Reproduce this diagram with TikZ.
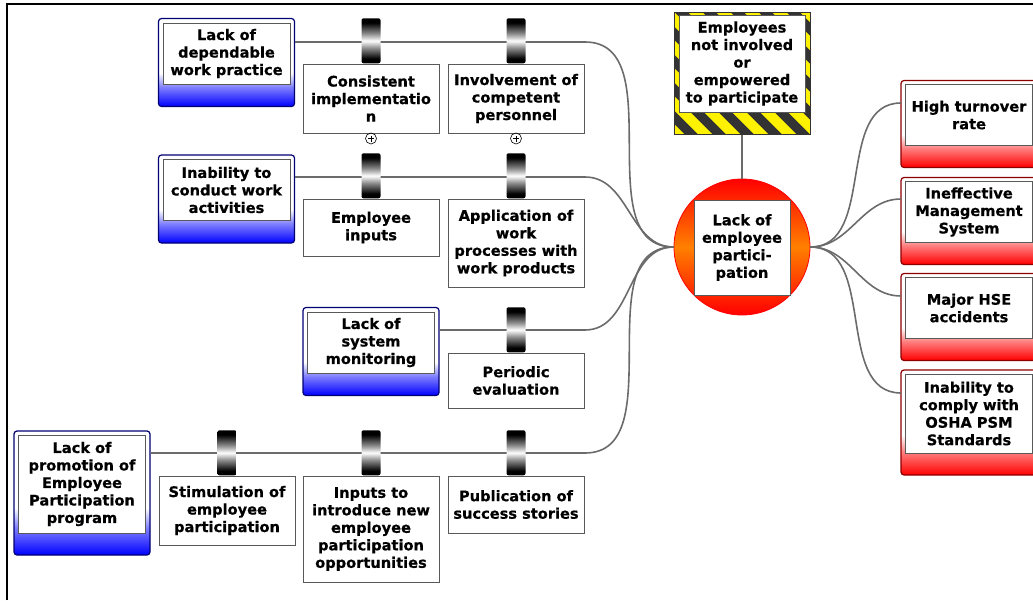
\documentclass[tikz,border=0pt]{standalone}
\usepackage{fontspec}
\setmainfont{DejaVu Sans}[BoldFeatures={FakeBold=0.6}]
\usepackage{tikz}

\pgfdeclareverticalshading{threatfill}{100bp}{color(0bp)=(blue); color(25bp)=(blue); color(36bp)=(blue!50!white); color(44bp)=(white); color(100bp)=(white)}
\pgfdeclareverticalshading{conseqfill}{100bp}{color(0bp)=(red); color(25bp)=(red); color(36bp)=(red!50!white); color(44bp)=(white); color(100bp)=(white)}
\pgfdeclareverticalshading{tabfill}{100bp}{color(0bp)=(black); color(30bp)=(black); color(42bp)=(black!45); color(50bp)=(white); color(58bp)=(black!45); color(70bp)=(black); color(100bp)=(black)}
\newcommand\boxfont{\fontsize{14.6}{17.5}\selectfont\bfseries}

\tikzset{
  threat/.style={draw=blue!45!black, line width=1.2, rounded corners=3, shading=threatfill, minimum width=136, inner sep=0},
  conseq/.style={draw=red!55!black, line width=1.2, rounded corners=3, shading=conseqfill, minimum width=136, inner sep=0},
  textbox/.style={draw=black!65, fill=white, line width=1, minimum width=127, align=center, font=\boxfont, inner sep=0},
  barrier/.style={textbox, minimum width=136},
  tab/.style={shading=tabfill, rounded corners=2, minimum width=19, minimum height=45, inner sep=0, anchor=south},
  expander/.style={circle, draw, line width=0.6, minimum size=11, inner sep=0,
    path picture={\draw[line width=0.6] ([xshift=-3]path picture bounding box.center) -- ([xshift=3]path picture bounding box.center)
      ([yshift=-3]path picture bounding box.center) -- ([yshift=3]path picture bounding box.center);}},
  hazard/.style={draw=black!80, line width=1, fill=yellow, minimum width=136, minimum height=122, inner sep=0,
    path picture={\foreach \k in {-7,...,7}
      \draw[line width=9.5] ([shift={(\k*28-90,-90)}]path picture bounding box.center) -- ++(180,180);}},
  topevent/.style={circle, draw=red, line width=0.8, top color=red, bottom color=red, middle color=orange, minimum size=136, inner sep=0},
  link/.style={draw=black!58, line width=1.6},
}

\begin{document}
\begin{tikzpicture}[x=1pt,y=-1pt]
  \useasboundingbox (0,0) rectangle (1033,600);
  \draw[line width=2] (7,600) -- (7,4) -- (1033,4);

  % top event and hazard
  \node[topevent] (top) at (742,247) {};
  \node[textbox, minimum width=96, minimum height=95] (toptext) at (742,247.5) {Lack of\\employee\\partici-\\pation};
  \node[hazard] (hz) at (742,73) {};
  \node[textbox, minimum width=126, minimum height=97] (hztext) at (742,63.5) {Employees\\not involved\\or\\empowered\\to participate};
  \draw[link] (hz.south) -- (top.north);

  % threats
  \node[threat, minimum height=88] (tA) at (226.5,62.5) {};
  \node[textbox, minimum height=61] (tAtext) at (226.5,53.5) {Lack of\\dependable\\work practice};
  \node[threat, minimum height=88] (tB) at (226.5,199) {};
  \node[textbox, minimum height=61] (tBtext) at (226.5,190) {Inability to\\conduct work\\activities};
  \node[threat, minimum height=88] (tC) at (371,351.5) {};
  \node[textbox, minimum height=61] (tCtext) at (371,342.5) {Lack of\\system\\monitoring};
  \node[threat, minimum height=124] (tD) at (82,493) {};
  \node[textbox, minimum height=98] (tDtext) at (82,484) {Lack of\\promotion of\\Employee\\Participation\\program};

  % bends in front of the top event
  \coordinate (jA) at (585,42);
  \coordinate (jB) at (585,177);
  \coordinate (jC) at (585,330);
  \coordinate (jD) at (585,453);
  \draw[link] (jA -| tA.east) -- (jA) to[out=0,in=180] (top.west);
  \draw[link] (jB -| tB.east) -- (jB) to[out=0,in=180] (top.west);
  \draw[link] (jC -| tC.east) -- (jC) to[out=0,in=180] (top.west);
  \draw[link] (jD -| tD.east) -- (jD) to[out=0,in=180] (top.west);

  % barriers
  \node[barrier, minimum height=69] (bA1) at (371,98.5) {Consistent\\implementatio\\n};
  \node[barrier, minimum height=69] (bA2) at (516,98.5) {Involvement of\\competent\\personnel};
  \node[barrier, minimum height=57] (bB1) at (371,227.5) {Employee\\inputs};
  \node[barrier, minimum height=88] (bB2) at (516,243) {Application of\\work\\processes with\\work products};
  \node[barrier, minimum height=55] (bC1) at (516,380.5) {Periodic\\evaluation};
  \node[barrier, minimum height=69] (bD1) at (227,510.5) {Stimulation of\\employee\\participation};
  \node[barrier, minimum height=106] (bD2) at (371,529) {Inputs to\\introduce new\\employee\\participation\\opportunities};
  \node[barrier, minimum height=57] (bD3) at (516,504.5) {Publication of\\success stories};

  \foreach \b in {bA1,bA2,bB1,bB2,bC1,bD1,bD2,bD3}
    \node[tab] (\b tab) at (\b.north) {};

  \node[expander] (xA1) at (371,138.5) {};
  \node[expander] (xA2) at (516,138.5) {};

  % consequences
  \node[conseq, minimum height=87] (cA) at (969,124) {};
  \node[textbox, minimum height=61] (cAtext) at (969,115) {High turnover\\rate};
  \node[conseq, minimum height=87] (cB) at (969,221) {};
  \node[textbox, minimum height=61] (cBtext) at (969,212) {Ineffective\\Management\\System};
  \node[conseq, minimum height=87] (cC) at (969,317) {};
  \node[textbox, minimum height=61] (cCtext) at (969,308) {Major HSE\\accidents};
  \node[conseq, minimum height=105] (cD) at (969,422.5) {};
  \node[textbox, minimum height=79] (cDtext) at (969,413.5) {Inability to\\comply with\\OSHA PSM\\Standards};

  \coordinate (kA) at (901,103);
  \coordinate (kB) at (901,199);
  \coordinate (kC) at (901,296);
  \coordinate (kD) at (901,393);
  \foreach \k in {kA,kB,kC,kD}
    \draw[link] (top.east) to[out=0,in=180] (\k);
\end{tikzpicture}
\end{document}
